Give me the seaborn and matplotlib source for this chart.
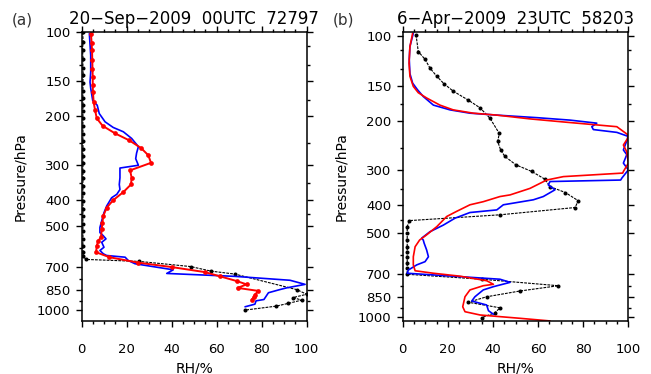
import matplotlib
matplotlib.use("Agg")
import matplotlib.pyplot as plt
from matplotlib.ticker import FixedLocator, NullFormatter, MultipleLocator
import seaborn as sns

# ---- panel (a): 20-Sep-2009 00UTC 72797 ----
a_black_rh = [0.5, 0.6, 0.4, 0.6, 0.5, 0.7, 0.5, 0.6, 0.5, 0.6, 0.5, 0.6, 0.5, 0.6,
              0.5, 0.6, 0.5, 0.6, 0.5, 0.6, 0.5, 0.6, 0.5, 0.6, 0.5, 0.6, 0.5, 0.6,
              0.5, 0.6, 0.7, 1.9, 25.6, 48.4, 57.5, 68.1, 95.6, 100.0, 94.0, 97.7,
              91.8, 86.4, 72.6]
a_black_p = [100, 108, 116, 125, 134, 143, 152, 162, 172, 182, 192, 204, 218, 232,
             247, 262, 278, 296, 315, 335, 357, 380, 405, 432, 460, 490, 520, 555,
             590, 620, 640, 657, 668, 697, 724, 742, 844, 877, 901, 921,
             946, 968, 1000]

a_red_rh = [4.1, 4.4, 4.6, 4.7, 4.8, 4.9, 4.9, 5.0, 5.3, 5.9, 6.7, 9.3, 14.8, 21.2,
            26.4, 29.6, 30.8, 21.5, 22.2, 21.9, 18.5, 14.0, 11.1, 9.6, 9.2, 8.9,
            8.6, 7.4, 6.7, 6.4, 12.3, 25.2, 40.0, 54.8, 61.5, 68.9, 73.3, 69.3,
            78.5, 77.0, 76.6, 75.6]
a_red_p = [101, 109, 116, 126, 136, 145, 155, 164, 178, 190, 204, 217, 231, 245,
           261, 277, 295, 314, 334, 353, 376, 402, 428, 458, 484, 511,
           547, 562, 586, 619, 645, 675, 700, 730, 756, 786, 808, 832,
           853, 880, 897, 916]

a_blue_rh = [3.4, 4.0, 4.0, 3.7, 4.0, 4.9, 6.9, 7.8, 10.4, 14.0, 18.5, 22.2, 25.2,
             24.4, 24.0, 25.2, 17.0, 17.0, 16.7, 17.0, 15.6, 13.3, 11.1, 9.9, 8.9,
             8.1, 8.1, 9.6, 10.8, 8.9, 9.9, 8.1, 9.6, 11.1, 19.3, 20.7, 23.7, 37.8,
             40.7, 37.8, 58.0, 68.0, 92.6, 99.3, 91.0, 88.0, 83.0, 81.0, 77.5,
             77.0, 72.6]
a_blue_p = [101, 121, 139, 151, 159, 176, 183, 196, 210, 220, 228, 241, 258,
            272, 285, 301, 308, 334, 353, 368, 383, 394, 422, 446, 477,
            504, 526, 540, 554, 570, 594, 610, 627, 636, 645, 663, 681, 710,
            716, 738, 750, 756, 781, 808, 832, 844, 866, 916, 926,
            952, 973]

# ---- panel (b): 6-Apr-2009 23UTC 58203 ----
b_black_rh = [5.9, 6.9, 9.9, 12.1, 15.1, 18.4, 22.4, 29.1, 34.3, 38.7, 42.8, 42.1,
              43.4, 45.3, 50.2, 57.2, 63.1, 65.3, 72.1, 77.8, 76.4, 43.1, 2.9, 2.0,
              2.0, 2.0, 2.0, 2.0, 2.0, 2.0, 2.0, 2.0, 35.0, 69.0, 52.0, 37.2, 29.1,
              43.1, 40.9, 35.0]
b_black_p = [98.9, 113.5, 121, 130, 139, 148, 157, 169, 180, 196, 222, 237,
             254, 268, 287, 303, 323, 343, 360, 385, 407, 432, 453, 476,
             502, 530, 561, 584, 609, 639, 669, 703, 732, 772, 806, 845, 884,
             925, 963, 1003]

b_blue_rh = [4.7, 3.2, 2.9, 3.2, 4.4, 6.5, 9.1, 13.6, 21.0, 29.8, 41.7, 59.4, 74.2,
             86.0, 83.8, 84.5, 94.9, 99.7, 99.7, 97.8, 99.3, 97.8, 100.0, 97.1, 96.6,
             65.3, 64.5, 67.5, 62.3, 57.9, 44.6, 41.7, 29.8, 23.2, 18.0, 12.1, 8.4,
             9.1, 9.5, 10.6, 11.4, 9.9, 6.2, 2.5, 2.0, 43.1, 47.6, 40.2, 35.7,
             32.0, 30.6, 37.2, 38.0, 40.2]
b_blue_p = [97.7, 109, 121, 136, 147, 155, 164, 176, 183, 188, 191, 195, 199,
            204, 210, 215, 220, 227, 231, 254, 264, 283, 299, 320, 325,
            329, 338, 352, 372, 382, 398, 415, 424, 444, 470, 496, 523,
            531, 545, 576, 609, 634, 651, 679, 697, 732, 751, 778, 799,
            845, 875, 904, 947, 975]

b_red_rh = [4.4, 3.2, 2.8, 3.2, 4.7, 6.9, 10.6, 16.5, 22.4, 31.3, 41.7, 56.4, 71.2,
            94.9, 100.0, 99.7, 97.8, 99.3, 100.0, 97.8, 97.5, 71.2, 63.8, 56.4, 47.6,
            43.1, 35.7, 29.8, 23.9, 19.5, 15.1, 10.6, 7.5, 5.5, 4.7, 4.7, 5.5, 13.6,
            25.4, 37.2, 40.2, 35.7, 29.8, 27.6, 26.6, 27.6, 34.3, 52.0, 65.3]
b_red_p = [97.7, 109, 125, 139, 151, 159, 166, 176, 183, 188, 191, 197, 202,
           210, 225, 231, 244, 258, 283, 303, 307, 316, 325, 348, 367,
           372, 388, 398, 420, 438, 476, 509, 531, 561, 609, 651, 683, 697,
           714, 741, 763, 772, 799, 845, 917, 955, 981, 1008, 1030]

p_ticks = [100, 150, 200, 300, 400, 500, 700, 850, 1000]
p_minor = [112, 131, 175, 250, 350, 450, 600, 775, 925]
rh_ticks = [0, 20, 40, 60, 80, 100]


def draw_panel(ax, black, blue, red, ylim, title, tag, red_markers):
    sns.lineplot(x=black[0], y=black[1], ax=ax, sort=False, estimator=None,
                 color="black", linewidth=0.8, linestyle=(0, (2.5, 1)),
                 marker="o", markersize=2.9, markeredgewidth=0)
    sns.lineplot(x=blue[0], y=blue[1], ax=ax, sort=False, estimator=None,
                 color="#0000ff", linewidth=1.2)
    if red_markers:
        sns.lineplot(x=red[0], y=red[1], ax=ax, sort=False, estimator=None,
                     color="#ff0000", linewidth=1.4, marker="o", markersize=3.4,
                     markeredgewidth=0)
    else:
        sns.lineplot(x=red[0], y=red[1], ax=ax, sort=False, estimator=None,
                     color="#ff0000", linewidth=1.2)

    ax.set_yscale("log")
    ax.set_ylim(*ylim)
    ax.set_xlim(0, 100)
    ax.set_yticks(p_ticks)
    ax.set_yticklabels([str(v) for v in p_ticks])
    ax.yaxis.set_minor_locator(FixedLocator(p_minor))
    ax.yaxis.set_minor_formatter(NullFormatter())
    ax.set_xticks(rh_ticks)
    ax.xaxis.set_minor_locator(MultipleLocator(5))

    ax.tick_params(which="both", direction="out", top=True, right=True,
                   labeltop=False, labelright=False, width=1, colors="black",
                   labelsize=9.5)
    ax.tick_params(which="major", length=4.5)
    ax.tick_params(which="minor", length=2.5)
    ax.tick_params(axis="x", pad=11.5)
    ax.tick_params(axis="y", pad=3.5)
    for s in ax.spines.values():
        s.set_visible(True)
        s.set_color("black")
        s.set_linewidth(1.1)

    ax.set_xlabel("RH/%", fontsize=10, labelpad=4, color="black")
    ax.set_ylabel("Pressure/hPa", fontsize=10, labelpad=7, color="black")

    pos = ax.get_position()
    fig = ax.figure
    fig.text(pos.x0 + pos.width / 2, 1 - 24 / 374, title, ha="center",
             va="baseline", fontsize=12, color="black")
    fig.text(pos.x0 - 59 / 651, 1 - 20 / 374, tag, ha="center", va="center",
             fontsize=11, color="#333333")


sns.set_style("ticks")
fig = plt.figure(figsize=(6.51, 3.74), dpi=100)
ax_a = fig.add_axes([0.1255, 0.1425, 0.3456, 0.771])
ax_b = fig.add_axes([0.6186, 0.1425, 0.3466, 0.771])

draw_panel(ax_a, (a_black_rh, a_black_p), (a_blue_rh, a_blue_p), (a_red_rh, a_red_p),
           (1092, 101), "20\u2212Sep\u22122009  00UTC  72797", "(a)", True)
draw_panel(ax_b, (b_black_rh, b_black_p), (b_blue_rh, b_blue_p), (b_red_rh, b_red_p),
           (1028, 97), "6\u2212Apr\u22122009  23UTC  58203", "(b)", False)

fig.savefig("out.png", dpi=100)
